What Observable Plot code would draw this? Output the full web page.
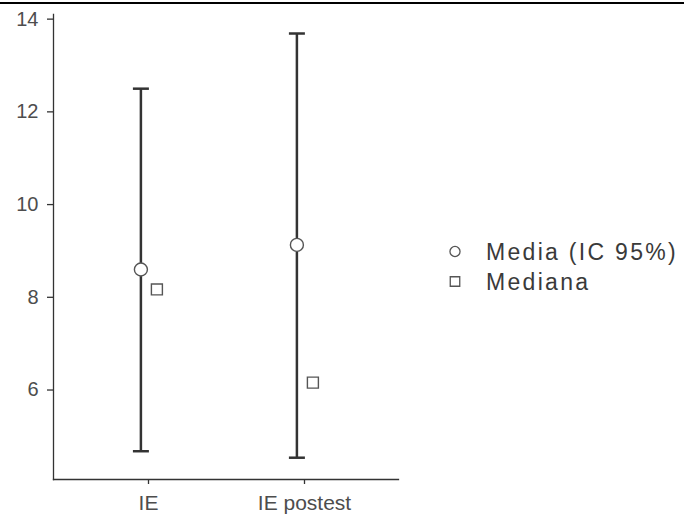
<!DOCTYPE html>
<html>
<head>
<meta charset="utf-8">
<script src="https://cdn.jsdelivr.net/npm/d3@7"></script>
<script src="https://cdn.jsdelivr.net/npm/@observablehq/plot@0.6"></script>
<style>
  html, body { margin: 0; padding: 0; background: #fff; }
  #wrap { position: relative; width: 684px; height: 518px; overflow: hidden; }
  #topline { position: absolute; left: 0; top: 2px; width: 684px; height: 2px; background: #000; z-index: 2; }
  svg { font-family: "Liberation Sans", Arial, sans-serif; }
</style>
</head>
<body>
<div id="wrap"><div id="topline"></div></div>
<script>
const categories = ["IE", "IE postest"];
const lower = [4.68, 4.54];
const upper = [12.5, 13.69];
const means = [8.6, 9.13];
const medians = [8.17, 6.16];
const yTicks = [6, 8, 10, 12, 14];
const legendLabels = ["Media (IC 95%)", "Mediana"];

const data = categories.map((c, i) => ({cat: c, lo: lower[i], hi: upper[i], mean: means[i], median: medians[i]}));

const axisColor = "#333";
const textColor = "#4d4d4d";
const pointColor = "#555";

// horizontal cap symbol for error bar ends
const capSymbol = {draw(context) { context.moveTo(-8, 0); context.lineTo(8, 0); }};

const chart = Plot.plot({
  width: 684,
  height: 518,
  marginLeft: 53,
  marginRight: 286,
  marginTop: 14,
  marginBottom: 39,
  style: {fontSize: "20px", fontFamily: "'Liberation Sans', Arial, sans-serif", background: "#fff"},
  x: {type: "point", domain: categories, padding: 0.6},
  y: {domain: [4.07, 14.1]},
  marks: [
    Plot.axisY({ticks: yTicks, tickSize: 6, tickPadding: 9, stroke: axisColor, strokeWidth: 1.3, fill: textColor, label: null, fontSize: 20}),
    Plot.axisX({tickSize: 5, tickPadding: 11, stroke: axisColor, strokeWidth: 1.3, fill: textColor, label: null, fontSize: 21}),
    Plot.frame({anchor: "left", stroke: axisColor, strokeWidth: 1.3}),
    Plot.frame({anchor: "bottom", stroke: axisColor, strokeWidth: 1.3}),
    Plot.ruleX(data, {x: "cat", y1: "lo", y2: "hi", dx: -7.6, stroke: axisColor, strokeWidth: 2.5}),
    Plot.dot(data, {x: "cat", y: "hi", dx: -7.6, symbol: capSymbol, fill: "none", stroke: axisColor, strokeWidth: 2.5}),
    Plot.dot(data, {x: "cat", y: "lo", dx: -7.6, symbol: capSymbol, fill: "none", stroke: axisColor, strokeWidth: 2.5}),
    Plot.dot(data, {x: "cat", y: "mean", dx: -7.6, r: 6.5, symbol: "circle", fill: "#fff", stroke: pointColor, strokeWidth: 1.4}),
    Plot.dot(data, {x: "cat", y: "median", dx: 8.4, r: 6.2, symbol: "square", fill: "#fff", stroke: pointColor, strokeWidth: 1.4})
  ]
});
document.getElementById("wrap").appendChild(chart);

// legend
const svg = d3.select(chart);
const lg = svg.append("g").attr("transform", "translate(455,251.5)");
const symbols = [d3.symbolCircle, d3.symbolSquare];
legendLabels.forEach((lab, i) => {
  const row = lg.append("g").attr("transform", `translate(0,${i * 30})`);
  row.append("path")
    .attr("d", d3.symbol(symbols[i], i === 0 ? 80 : 90)())
    .attr("fill", "#fff").attr("stroke", pointColor).attr("stroke-width", 1.3);
  row.append("text")
    .attr("x", 31).attr("y", 0).attr("dy", "0.35em")
    .attr("text-anchor", "start")
    .attr("fill", "#3a3a3a")
    .attr("font-size", 23)
    .attr("letter-spacing", "2.3px")
    .text(lab);
});
</script>
</body>
</html>
